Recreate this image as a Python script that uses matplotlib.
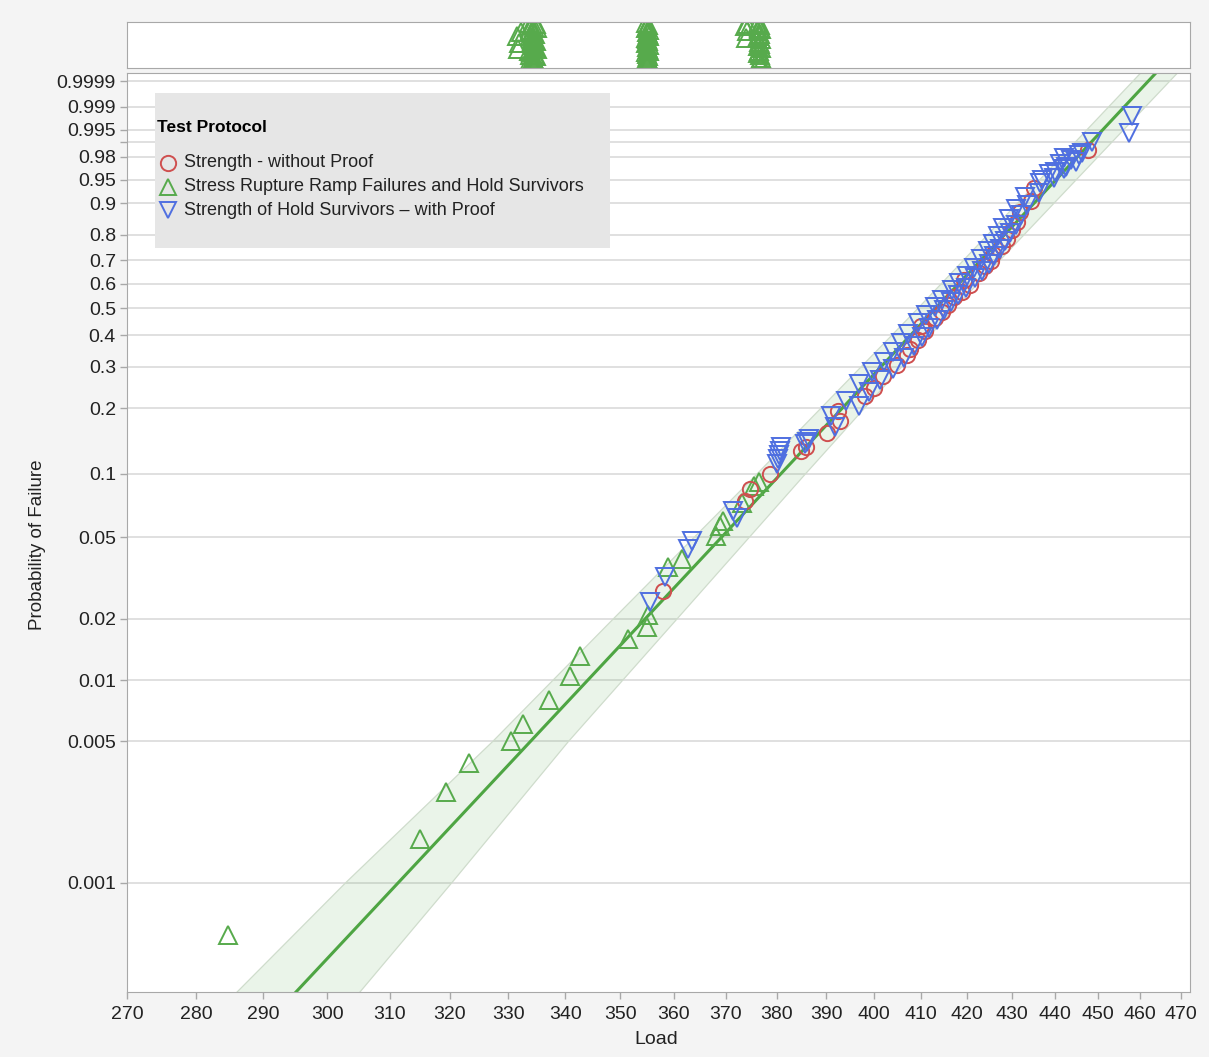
import numpy as np
import matplotlib.pyplot as plt
from matplotlib.patches import Rectangle

plt.rcParams['font.family'] = ['Liberation Sans', 'DejaVu Sans']

# Stress rupture ramp failures (green, up triangles): load, probability of failure
green_load = [284.8, 315.0, 319.3, 323.2, 330.5, 332.6, 337.2, 340.8, 342.6, 351.5,
              355.0, 355.2, 358.9, 361.6, 368.1, 368.9, 369.5, 373.1, 375.5, 376.4]
green_prob = [0.00055, 0.00165, 0.0028, 0.0039, 0.0050, 0.0061, 0.0080, 0.0105, 0.0131, 0.0159,
              0.0183, 0.0208, 0.0357, 0.0390, 0.0504, 0.0564, 0.0595, 0.0726, 0.0874, 0.0914]

# Strength - without proof (red circles)
red_load = [358.0, 373.8, 374.8, 378.7, 384.8, 385.9,
            390.2, 392.8, 392.4, 398.0, 400.0, 401.8, 404.9, 406.9, 407.6, 409.4,
            410.8, 410.0, 413.0, 414.6, 415.8, 417.2, 419.0, 420.6, 419.4, 422.6,
            424.0, 425.3, 425.9, 427.8, 428.9, 430.1, 431.3, 432.0, 434.5, 435.2, 447.7]
red_prob = [0.0275, 0.0742, 0.0846, 0.0995, 0.1276, 0.1330,
            0.155, 0.175, 0.195, 0.225, 0.245, 0.275, 0.305, 0.335, 0.355, 0.385,
            0.415, 0.435, 0.465, 0.485, 0.515, 0.545, 0.565, 0.595, 0.615, 0.645,
            0.675, 0.695, 0.725, 0.755, 0.785, 0.815, 0.845, 0.875, 0.905, 0.935, 0.985]

# Strength of hold survivors - with proof (blue, down triangles)
blue_load = [355.6, 358.4, 362.6, 363.5, 371.4, 372.2, 380.1, 380.3, 380.5, 380.7,
             380.9, 385.8, 386.2,
             386.5, 391.8, 391.0, 396.8, 394.2, 399.0, 396.9, 401.2, 399.6, 403.9,
             402.0, 406.3, 404.0, 408.5, 405.6, 410.2, 407.2, 411.8, 409.3, 413.4,
             411.0, 415.0, 413.1, 416.6, 414.6, 418.1, 416.8, 419.7, 418.3, 421.7,
             420.0, 423.3, 421.5, 424.8, 423.2, 426.0, 424.6, 427.3, 425.7, 428.4,
             426.9, 429.6, 428.0, 430.9, 429.4, 432.2, 430.9, 433.6, 433.0, 436.3,
             436.4, 439.8, 438.6, 441.9, 441.0, 443.6, 445.6,
             437.0, 440.0, 442.5, 444.8, 442.0, 446.3,
             448.5, 457.3, 458.0]
blue_prob = [0.0243, 0.0322, 0.0436, 0.0477, 0.0665, 0.0621, 0.1108, 0.1170, 0.1226, 0.1276,
             0.1329, 0.1370, 0.1400,
             0.145, 0.165, 0.185, 0.205, 0.215, 0.235, 0.255, 0.265, 0.285, 0.295,
             0.315, 0.325, 0.345, 0.365, 0.375, 0.395, 0.405, 0.425, 0.445, 0.455,
             0.475, 0.495, 0.505, 0.525, 0.535, 0.555, 0.575, 0.585, 0.605, 0.625,
             0.635, 0.655, 0.665, 0.685, 0.705, 0.715, 0.735, 0.745, 0.765, 0.775,
             0.795, 0.805, 0.825, 0.835, 0.855, 0.865, 0.885, 0.895, 0.915, 0.925,
             0.945, 0.953, 0.960, 0.966, 0.972, 0.977, 0.981,
             0.950, 0.963, 0.969, 0.975, 0.979, 0.983,
             0.990, 0.994, 0.998]

# hold survivors shown in the strip above the plot (load, jitter position in strip)
strip_load = [331.4, 331.9, 332.1, 331.7,
              333.6, 334.0, 334.4, 334.8, 335.0, 333.8, 334.2, 334.6, 333.7, 334.1,
              334.5, 334.9, 333.9, 334.3, 334.7, 335.0, 333.6, 334.0, 334.4, 334.8,
              334.2, 333.8, 334.6, 334.1, 334.9, 333.7, 334.3,
              354.8, 355.2, 355.0, 354.7, 355.3, 354.9, 355.1, 355.4, 354.8, 355.0,
              355.2, 354.7, 355.3, 354.9, 355.1, 355.4, 354.8, 355.0, 355.2, 354.9,
              355.1, 355.3, 354.8, 355.0, 355.2,
              373.8, 374.2, 373.9, 374.1,
              376.2, 376.6, 376.4, 376.8, 376.3, 376.7, 376.5, 376.1, 376.9, 376.4,
              376.6, 376.2, 376.8, 376.5, 376.3, 376.7, 376.9, 376.6, 376.4, 376.8]
strip_pos = [0.70, 0.55, 0.78, 0.42,
             0.98, 0.94, 0.90, 0.96, 0.86, 0.82, 0.78, 0.74, 0.70, 0.66,
             0.62, 0.58, 0.54, 0.50, 0.46, 0.42, 0.38, 0.34, 0.30, 0.26,
             0.22, 0.18, 0.14, 0.10, 0.08, 0.28, 0.60,
             0.98, 0.94, 0.90, 0.86, 0.82, 0.78, 0.74, 0.70, 0.66, 0.62,
             0.58, 0.54, 0.50, 0.46, 0.42, 0.38, 0.34, 0.30, 0.26, 0.22,
             0.18, 0.14, 0.10, 0.08, 0.12,
             0.92, 0.80, 0.66, 0.96,
             0.98, 0.93, 0.88, 0.84, 0.80, 0.75, 0.70, 0.66, 0.62, 0.57,
             0.52, 0.48, 0.43, 0.38, 0.33, 0.28, 0.22, 0.16, 0.10, 0.06]

# Weibull fit line and its confidence band
fit_prob = [2.886e-4, 0.99996]
fit_load = [295.1, 463.9]
band_prob = [2.886e-4, 0.001, 0.005, 0.02, 0.1, 0.5, 0.99996]
band_lo = [286.1, 302.9, 327.3, 348.7, 376.1, 409.3, 460.2]
band_hi = [305.2, 320.3, 340.6, 360.6, 385.8, 417.2, 469.2]

x_ticks = list(range(270, 471, 10))
y_ticks = [0.001, 0.005, 0.01, 0.02, 0.05, 0.1, 0.2, 0.3, 0.4, 0.5, 0.6, 0.7, 0.8,
           0.9, 0.95, 0.98, 0.99, 0.995, 0.999, 0.9999]
y_labels = ['0.001', '0.005', '0.01', '0.02', '0.05', '0.1', '0.2', '0.3', '0.4', '0.5',
            '0.6', '0.7', '0.8', '0.9', '0.95', '0.98', '', '0.995', '0.999', '0.9999']

legend_title = 'Test Protocol'
legend_labels = ['Strength - without Proof',
                 'Stress Rupture Ramp Failures and Hold Survivors',
                 'Strength of Hold Survivors \u2013 with Proof']

RED = '#cf4f4f'
GREEN = '#57aa4c'
BLUE = '#4f6fe0'
SPINE = '#a8a8a8'


def weib(p):
    p = np.clip(np.asarray(p, dtype=float), 1e-12, 1 - 1e-12)
    return np.log(-np.log1p(-p))


def weib_inv(z):
    return -np.expm1(-np.exp(z))


W, H = 1209, 1057
fig = plt.figure(figsize=(W / 100, H / 100), dpi=100, facecolor='#f4f4f4')
ax = fig.add_axes([127 / W, 1 - 992 / H, 1063 / W, 919 / H])
top = fig.add_axes([127 / W, 1 - 68 / H, 1063 / W, 46 / H], sharex=ax)

ax.set_xscale('log')
ax.set_yscale('function', functions=(weib, weib_inv))
ax.set_xlim(270, 472.3)
ax.set_ylim(2.886e-4, 0.99996)

# band + fit
ax.fill_betweenx(band_prob, band_lo, band_hi, facecolor=GREEN, alpha=0.12,
                 edgecolor='none', zorder=1)
ax.plot(band_lo, band_prob, color='#cfdccc', lw=0.9, zorder=1)
ax.plot(band_hi, band_prob, color='#cfdccc', lw=0.9, zorder=1)
ax.plot(fit_load, fit_prob, color='#4ea543', lw=2.2, zorder=2)

ms = dict(linestyle='none', markerfacecolor='none', markeredgewidth=1.4)
ax.plot(green_load, green_prob, marker='^', markersize=12.5, markeredgecolor=GREEN, zorder=3, **ms)
ax.plot(red_load, red_prob, marker='o', markersize=11, markeredgecolor=RED, zorder=3, **ms)
ax.plot(blue_load, blue_prob, marker='v', markersize=12.5, markeredgecolor=BLUE, zorder=4, **ms)

ax.set_xticks(x_ticks)
ax.set_xticklabels([str(t) for t in x_ticks])
ax.xaxis.set_minor_locator(plt.NullLocator())
ax.set_yticks(y_ticks)
ax.set_yticklabels(y_labels)
ax.yaxis.set_minor_locator(plt.NullLocator())
ax.yaxis.grid(True, color='#dadada', lw=1.2)
ax.set_axisbelow(True)
ax.tick_params(axis='both', labelsize=14, colors='#222222', length=5, width=1)
ax.tick_params(axis='x', pad=5, colors=SPINE, labelcolor='#222222')
ax.tick_params(axis='y', pad=3, colors=SPINE, labelcolor='#222222')
for s in ax.spines.values():
    s.set_color(SPINE)

# top strip with hold survivors
top.plot(strip_load, strip_pos, marker='^', markersize=12.5, markeredgecolor=GREEN, **ms)
top.set_ylim(0, 1)
top.tick_params(bottom=False, labelbottom=False, left=False, labelleft=False)
top.set_yticks([])
for s in top.spines.values():
    s.set_color(SPINE)

# legend panel
ax.add_patch(Rectangle((0.0263, 0.8096), 0.4281, 0.1686, transform=ax.transAxes,
                       facecolor='#e6e6e6', edgecolor='none', zorder=10))
ax.text(0.0282, 0.9402, legend_title, transform=ax.transAxes, fontsize=12.5,
        fontweight='bold', va='center', ha='left', zorder=11)
leg_y = [0.9021, 0.8760, 0.8509]
for (mk, col), label, yy in zip([('o', RED), ('^', GREEN), ('v', BLUE)], legend_labels, leg_y):
    ax.plot([0.0386], [yy], transform=ax.transAxes, marker=mk, markersize=11,
            markeredgecolor=col, clip_on=False, zorder=11, **ms)
    ax.text(0.0536, yy, label, transform=ax.transAxes, fontsize=13, va='center',
            ha='left', color='#222222', zorder=11)

fig.text(38 / W, 1 - 545 / H, 'Probability of Failure', rotation=90, fontsize=13.5,
         ha='center', va='center', color='#222222')
fig.text(656 / W, 1 - 1040 / H, 'Load', fontsize=14, ha='center', va='center',
         color='#222222')

fig.savefig('out.png', dpi=100, facecolor=fig.get_facecolor())
